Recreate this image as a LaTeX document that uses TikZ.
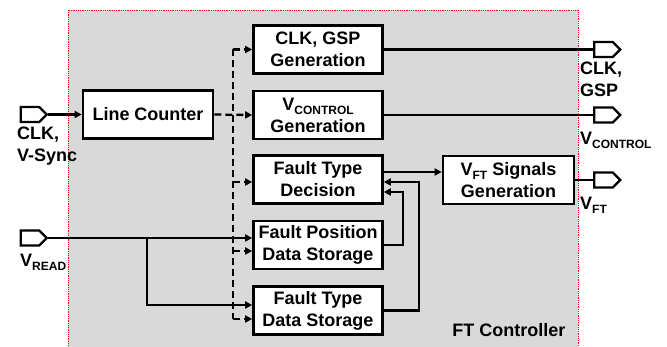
\documentclass[tikz,border=0pt]{standalone}
\usepackage{fontspec}
\setmainfont{Liberation Sans}
\usetikzlibrary{arrows.meta,shapes.symbols}
\definecolor{grigio}{HTML}{D9D9D9}
\newcommand{\pedice}[1]{\raisebox{-0.22em}{\fontsize{12}{12}\selectfont #1}}

\begin{document}
\begin{tikzpicture}[x=1pt,y=-1pt,
    font=\fontsize{18}{22}\selectfont\bfseries,
    blocco/.style={draw, line width=2.6pt, fill=white, minimum width=129pt, minimum height=48pt, align=center, inner sep=0pt},
    porta/.style={draw, line width=2.4pt, fill=white, shape=signal, signal to=east, minimum width=26pt, minimum height=15pt, inner sep=0pt},
    etichetta/.style={align=left, inner sep=0pt},
    filo/.style={line width=2.3pt},
    freccia/.style={filo, -{Triangle[length=7pt,width=7pt]}},
    tratto/.style={filo, dash pattern=on 7pt off 4pt}]
        \useasboundingbox (0,0) rectangle (667,347);
        \clip (0,0) rectangle (667,347);
        \draw[red, densely dotted, line width=0.8pt, fill=grigio] (68,360) -- (68,10) -- (578,10) -- (578,360); % area del controllore
        \node[anchor=base east] (ftc) at (569,337) {FT Controller};

        % blocchi
        \node[blocco, minimum width=130pt] (lc) at (148,114.5) {Line Counter};
        \node[blocco] (cgg) at (318,49.5) {CLK, GSP\\Generation};
        \node[blocco] (vcg) at (318,115) {V\pedice{CONTROL}\\Generation};
        \node[blocco] (ftd) at (318,179.5) {Fault Type\\Decision};
        \node[blocco] (fpds) at (318,245) {Fault Position\\Data Storage};
        \node[blocco] (ftds) at (318,310.5) {Fault Type\\Data Storage};
        \node[blocco, minimum width=131pt] (vft) at (508.5,180) {V\pedice{FT} Signals\\Generation};

        % porte di ingresso e uscita
        \node[porta] (clkin) at (30,114.5) {};
        \node[porta] (vread) at (30,238) {};
        \node[porta] (clkout) at (603.5,49.5) {};
        \node[porta] (vctrl) at (603.5,115) {};
        \node[porta] (vftout) at (603.5,180) {};
        \node[etichetta, anchor=north west] (lclk) at (17,127) {CLK,\\V-Sync};
        \node[etichetta, anchor=north west] (lread) at (20,254) {V\pedice{READ}};
        \node[etichetta, anchor=north west] (lgsp) at (580,62) {CLK,\\GSP};
        \node[etichetta, anchor=north west] (lctrl) at (580,132) {V\pedice{CONTROL}};
        \node[etichetta, anchor=north west] (lvft) at (580,197) {V\pedice{FT}};

        % bus tratteggiato del contatore di riga
        \coordinate (b1) at (233,49.5);
        \coordinate (b3) at (233,182);
        \coordinate (b4) at (233,251);
        \coordinate (b5) at (233,319);
        \draw[tratto] (b1) -- (b5);
        \draw[tratto, -{Triangle[length=7pt,width=7pt]}] (lc.east) -- (vcg.west);
        \draw[tratto, -{Triangle[length=7pt,width=7pt]}] (b1) -- (cgg.west);
        \draw[tratto, -{Triangle[length=7pt,width=7pt]}] (b3) -- (b3 -| ftd.west);
        \draw[tratto, -{Triangle[length=7pt,width=7pt]}] (b4) -- (b4 -| fpds.west);
        \draw[tratto, -{Triangle[length=7pt,width=7pt]}] (b5) -- (b5 -| ftds.west);

        % collegamenti
        \draw[freccia] (clkin.east) -- (lc.west); % ingresso di clock
        \draw[freccia] (vread.east) -- (vread.east -| fpds.west); % dati letti
        \coordinate (split) at (147,238);
        \draw[freccia] (split) |- ([yshift=5.5pt]ftds.west);
        \draw[freccia] (fpds.east) -- ++(19,0) |- ([yshift=-12.5pt]ftd.east); % ritorno posizione
        \draw[freccia] (ftds.east) -- ++(35,0) |- ([yshift=-2.5pt]ftd.east); % ritorno tipo
        \draw[freccia] ([yshift=7.5pt]ftd.east) -- ([yshift=7.5pt]ftd.east -| vft.west);
        \draw[filo] (cgg.east) -- (clkout.west);
        \draw[filo] (vcg.east) -- (vctrl.west);
        \draw[filo] (vft.east) -- (vftout.west);
    \end{tikzpicture}
\end{document}
